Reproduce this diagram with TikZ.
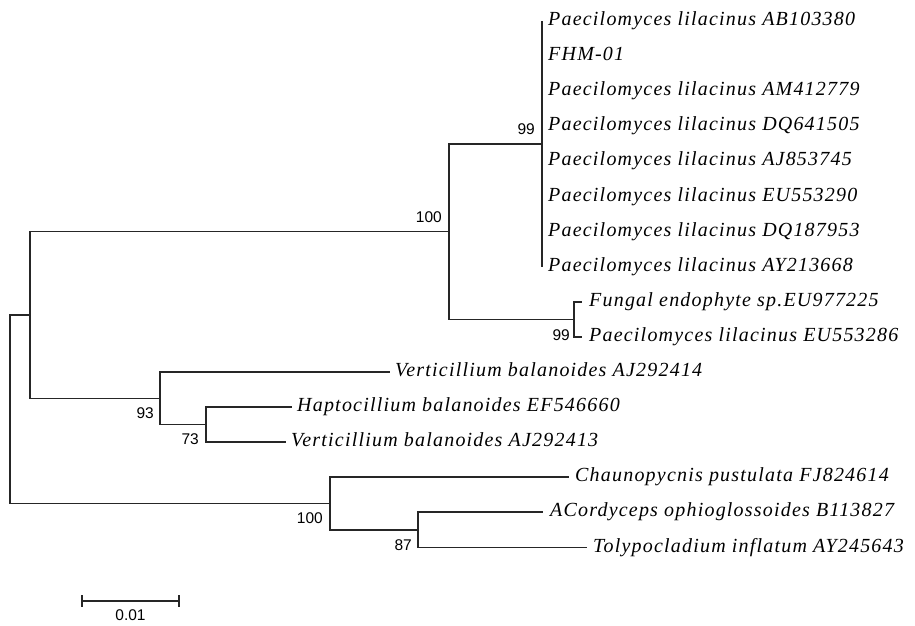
\documentclass[tikz,border=0pt]{standalone}
\usepackage{fontspec}
\setmainfont{Liberation Serif}
\newfontfamily\labfont[LetterSpace=6]{Liberation Serif}
\newfontfamily\numfont{Liberation Sans}
\begin{document}
\begin{tikzpicture}[x=1pt,y=-1pt,
  br/.style={line width=1.5pt, black!85},
  taxon/.style={anchor=base west, inner sep=0pt, font=\labfont\itshape\fontsize{20}{24}\selectfont},
  boot/.style={anchor=east, inner sep=0pt, font=\numfont\fontsize{15.5}{18}\selectfont}]
\useasboundingbox (0,0) rectangle (915,626);
% internal nodes
\coordinate (root) at (10,409);
\coordinate (nA) at (30,315);
\coordinate (nP) at (449,231.5);
\coordinate (n99) at (542,144);
\coordinate (nF) at (574,319.5);
\coordinate (n93) at (160,398.5);
\coordinate (n73) at (206,424.5);
\coordinate (nC) at (330,503.5);
\coordinate (n87) at (418,530);
% tips
\coordinate (t1) at (542,21);
\coordinate (t2) at (542,56.1);
\coordinate (t3) at (542,91.2);
\coordinate (t4) at (542,126.3);
\coordinate (t5) at (542,161.4);
\coordinate (t6) at (542,196.5);
\coordinate (t7) at (542,231.6);
\coordinate (t8) at (542,266.7);
\coordinate (t9) at (582,302);
\coordinate (t10) at (582,337);
\coordinate (t11) at (390,372);
\coordinate (t12) at (292,407);
\coordinate (t13) at (286,442);
\coordinate (t14) at (569,477);
\coordinate (t15) at (543,512);
\coordinate (t16) at (587,547.5);
% branches
\draw[br] (root) |- (nA);
\draw[br] (root) |- (nC);
\draw[br] (nA) |- (nP);
\draw[br] (nA) |- (n93);
\draw[br] (nP) |- (n99);
\draw[br] (nP) |- (nF);
\draw[br] (n99) -- (t1);
\draw[br] (n99) -- (t8);
\draw[br] (nF) |- (t9);
\draw[br] (nF) |- (t10);
\draw[br] (n93) |- (t11);
\draw[br] (n93) |- (n73);
\draw[br] (n73) |- (t12);
\draw[br] (n73) |- (t13);
\draw[br] (nC) |- (t14);
\draw[br] (nC) |- (n87);
\draw[br] (n87) |- (t15);
\draw[br] (n87) |- (t16);
% taxon labels
\node[taxon] (L1) at ([xshift=6pt,yshift=-4.5pt]t1) {Paecilomyces lilacinus AB103380};
\node[taxon] (L2) at ([xshift=6pt,yshift=-4.5pt]t2) {FHM-01};
\node[taxon] (L3) at ([xshift=6pt,yshift=-4.5pt]t3) {Paecilomyces lilacinus AM412779};
\node[taxon] (L4) at ([xshift=6pt,yshift=-4.5pt]t4) {Paecilomyces lilacinus DQ641505};
\node[taxon] (L5) at ([xshift=6pt,yshift=-4.5pt]t5) {Paecilomyces lilacinus AJ853745};
\node[taxon] (L6) at ([xshift=6pt,yshift=-4.5pt]t6) {Paecilomyces lilacinus EU553290};
\node[taxon] (L7) at ([xshift=6pt,yshift=-4.5pt]t7) {Paecilomyces lilacinus DQ187953};
\node[taxon] (L8) at ([xshift=6pt,yshift=-4.5pt]t8) {Paecilomyces lilacinus AY213668};
\node[taxon] (L9) at ([xshift=7pt,yshift=-4.5pt]t9) {Fungal endophyte sp.EU977225};
\node[taxon] (L10) at ([xshift=7pt,yshift=-4.5pt]t10) {Paecilomyces lilacinus EU553286};
\node[taxon] (L11) at ([xshift=5pt,yshift=-4.5pt]t11) {Verticillium balanoides AJ292414};
\node[taxon] (L12) at ([xshift=5pt,yshift=-4.5pt]t12) {Haptocillium balanoides EF546660};
\node[taxon] (L13) at ([xshift=5pt,yshift=-4.5pt]t13) {Verticillium balanoides AJ292413};
\node[taxon] (L14) at ([xshift=6pt,yshift=-4.5pt]t14) {Chaunopycnis pustulata FJ824614};
\node[taxon] (L15) at ([xshift=7pt,yshift=-4.5pt]t15) {ACordyceps ophioglossoides B113827};
\node[taxon] (L16) at ([xshift=6pt,yshift=-4.5pt]t16) {Tolypocladium inflatum AY245643};
% bootstrap values
\node[boot] (b99) at (535,129) {99};
\node[boot] (b100a) at (442,217) {100};
\node[boot] (b99F) at (570,335) {99};
\node[boot] (b93) at (154,413) {93};
\node[boot] (b73) at (199,439) {73};
\node[boot] (b100b) at (323,518) {100};
\node[boot] (b87) at (412,545) {87};
% scale bar
\coordinate (s1) at (82,601);
\coordinate (s2) at (179,601);
\draw[br] (s1) -- (s2);
\draw[br] ([yshift=6pt]s1) -- ([yshift=-6pt]s1);
\draw[br] ([yshift=6pt]s2) -- ([yshift=-6pt]s2);
\node[boot, anchor=center] (sl) at (130.5,615.5) {0.01};
\end{tikzpicture}
\end{document}
